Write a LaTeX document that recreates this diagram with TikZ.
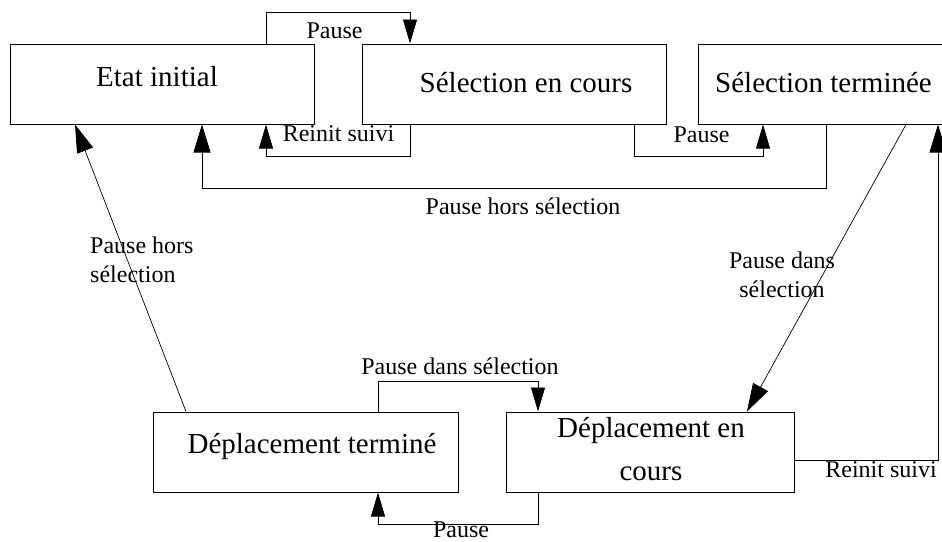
\documentclass[tikz,border=0pt]{standalone}
\usepackage{fontspec}
\setmainfont{Liberation Serif}
\usetikzlibrary{arrows.meta}

\tikzset{
  statebox/.style={draw=black, line width=1pt, rectangle, inner sep=0pt, fill=white},
  boxtext/.style={font=\fontsize{29}{43}\selectfont, inner sep=0pt, anchor=base},
  edgetext/.style={font=\fontsize{24}{29}\selectfont, inner sep=0pt, anchor=base},
  link/.style={draw=black, line width=0.7pt},
  smallarr/.style={link, -{Triangle[length=24pt, width=14pt]}},
  bigarr/.style={link, -{Triangle[length=28pt, width=17pt]}}
}

\begin{document}
\begin{tikzpicture}[x=1pt, y=-1pt]
\useasboundingbox (0,0) rectangle (942,541);

% states
\node[statebox, minimum width=304pt, minimum height=80pt] (init) at (162,84) {};
\node[statebox, minimum width=304pt, minimum height=80pt] (selc) at (514,84) {};
\node[statebox, minimum width=250pt, minimum height=80pt] (selt) at (823,84) {};
\node[statebox, minimum width=305pt, minimum height=80pt] (depT) at (305.5,452) {};
\node[statebox, minimum width=288pt, minimum height=80pt] (depC) at (650,452) {};

% state names (multi-line nodes are placed by the baseline of their last line)
\node[boxtext] (tinit) at (157,86) {Etat initial};
\node[boxtext] (tselc) at (526,92) {Sélection en cours};
\node[boxtext] (tselt) at (823.5,92) {Sélection terminée};
\node[boxtext] (tdepT) at (312,453) {Déplacement terminé};
\node[boxtext, align=center] (tdepC) at (651,480) {Déplacement en\\cours};

% bend points of the connectors
\coordinate (k1) at (266,12);
\coordinate (k2) at (410,12);
\coordinate (k3) at (410,156);
\coordinate (k4) at (266,156);
\coordinate (k5) at (634,156);
\coordinate (k6) at (763,156);
\coordinate (k7) at (826,188);
\coordinate (k8) at (202,188);
\coordinate (k9) at (186,0);
\coordinate (k10) at (75,0);
\coordinate (k11) at (906,0);
\coordinate (k12) at (747,0);
\coordinate (k13) at (938,460);
\coordinate (k14) at (378,381);
\coordinate (k15) at (538,381);
\coordinate (k16) at (538,524);
\coordinate (k17) at (378,524);

% transitions
\draw[smallarr] (init.north -| k1) -- (k1) -- (k2) -- (selc.north -| k2);
\draw[smallarr] (selc.south -| k3) -- (k3) -- (k4) -- (init.south -| k4);
\draw[smallarr] (selc.south -| k5) -- (k5) -- (k6) -- (selt.south -| k6);
\draw[bigarr] (selt.south -| k7) -- (k7) -- (k8) -- (init.south -| k8);
\draw[bigarr] (depT.north -| k9) -- (init.south -| k10);
\draw[bigarr] (selt.south -| k11) -- (depC.north -| k12);
\draw[bigarr] (depC.east |- k13) -- (k13) -- (selt.south -| k13);
\draw[smallarr] (depT.north -| k14) -- (k14) -- (k15) -- (depC.north -| k15);
\draw[smallarr] (depC.south -| k16) -- (k16) -- (k17) -- (depT.south -| k17);

% transition labels
\node[edgetext] (l1) at (334.5,38) {Pause};
\node[edgetext] (l2) at (338.5,141) {Reinit suivi};
\node[edgetext] (l3) at (701.5,142) {Pause};
\node[edgetext] (l4) at (523,214) {Pause hors sélection};
\node[edgetext, anchor=base west, align=left] (l5) at (90,282) {Pause hors\\sélection};
\node[edgetext, align=center] (l6) at (782,297) {Pause dans\\sélection};
\node[edgetext] (l8) at (460,374) {Pause dans sélection};
\node[edgetext, text depth=0pt] (l9) at (461,537.5) {Pause};
\node[edgetext] (l10) at (881,477) {Reinit suivi};
\end{tikzpicture}
\end{document}
